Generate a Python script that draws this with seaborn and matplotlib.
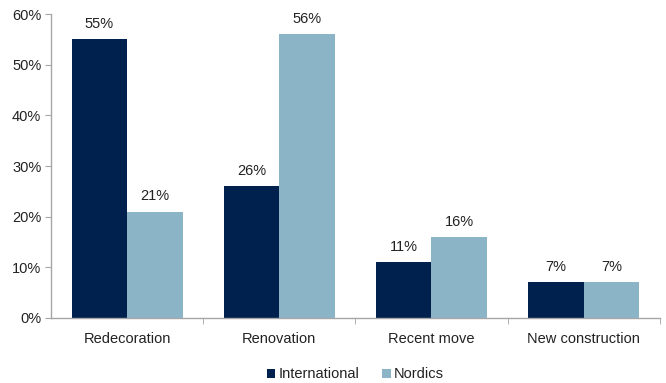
import matplotlib
matplotlib.use("Agg")
import matplotlib.pyplot as plt
import seaborn as sns
import pandas as pd
from matplotlib.ticker import FixedLocator, PercentFormatter

categories = ["Redecoration", "Renovation", "Recent move", "New construction"]
international = [55, 26, 11, 7]
nordics = [21, 56, 16, 7]
series_names = ["International", "Nordics"]
colors = ["#00214D", "#8BB5C7"]

df = pd.DataFrame({
    "category": categories * 2,
    "value": international + nordics,
    "series": [series_names[0]] * 4 + [series_names[1]] * 4,
})

sns.set_style("white")
plt.rcParams["font.family"] = ["Liberation Sans", "DejaVu Sans"]

fig = plt.figure(figsize=(6.66, 3.83), dpi=100)
ax = fig.add_axes([0.0766, 0.170, 0.914, 0.793])

sns.barplot(data=df, x="category", y="value", hue="series", order=categories,
            hue_order=series_names, palette=colors, width=0.73, saturation=1,
            ax=ax, edgecolor="none", linewidth=0)

for cont in ax.containers:
    ax.bar_label(cont, fmt="%d%%", padding=6, fontsize=10.5, color="#222222")

ax.set_ylim(0, 60)
ax.set_xlim(-0.5, 3.5)
ax.yaxis.set_major_formatter(PercentFormatter(decimals=0))
ax.set_yticks(range(0, 61, 10))
ax.set_xlabel("")
ax.set_ylabel("")

for side in ["top", "right"]:
    ax.spines[side].set_visible(False)
for side in ["left", "bottom"]:
    ax.spines[side].set_color("#A6A6A6")
    ax.spines[side].set_linewidth(1)

ax.tick_params(axis="y", left=True, length=4, color="#A6A6A6", labelsize=10.5,
               labelcolor="#222222", pad=3)
ax.tick_params(axis="x", which="major", length=0, labelsize=10.5,
               labelcolor="#222222", pad=10)
ax.xaxis.set_minor_locator(FixedLocator([0.5, 1.5, 2.5, 3.5]))
ax.tick_params(axis="x", which="minor", bottom=True, length=4, color="#A6A6A6")

ax.legend(loc="upper center", bbox_to_anchor=(0.5, -0.12), ncol=2, frameon=False,
          fontsize=10.5, handlelength=0.6, handleheight=0.6, handletextpad=0.25,
          columnspacing=1.5, labelcolor="#222222")

fig.savefig("out.png", dpi=100)
